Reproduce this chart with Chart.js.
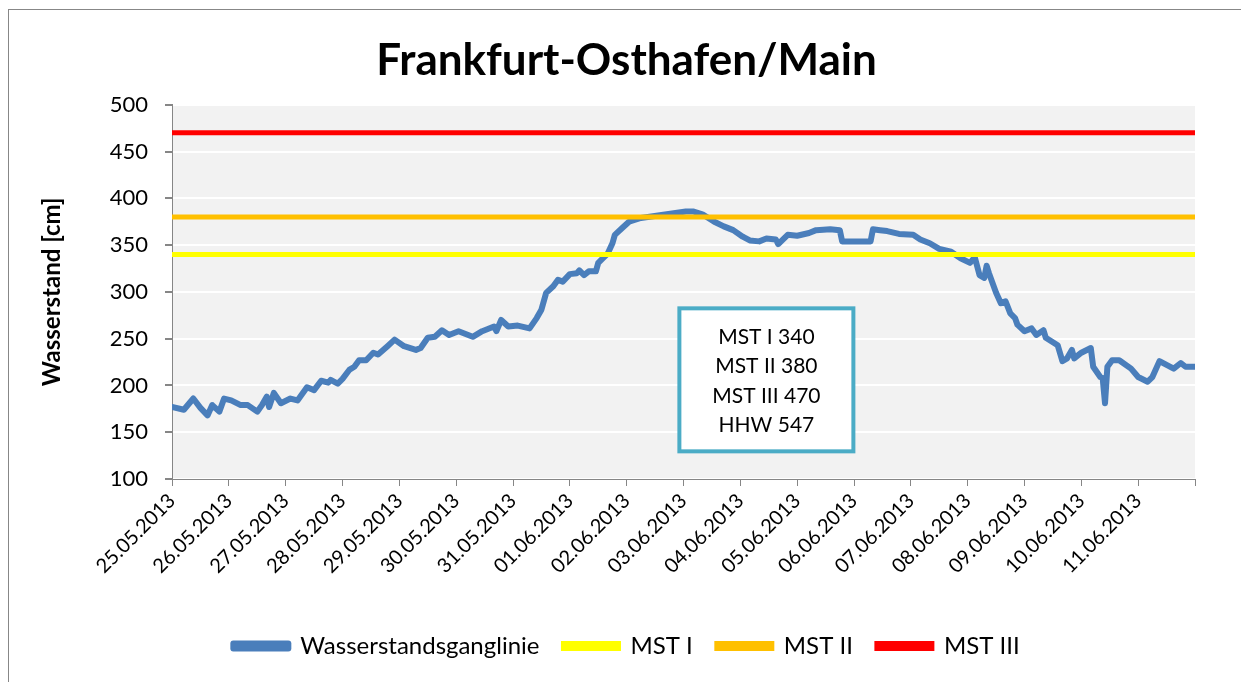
<!DOCTYPE html>
<html>
<head>
<meta charset="utf-8">
<script src="https://cdn.jsdelivr.net/npm/chart.js@4"></script>
<style>
  html, body { margin: 0; padding: 0; background: #fff; }
  #rahmen { position: absolute; left: 8px; top: 9px; width: 1240px; height: 680px;
            border-left: 1px solid #878787; border-top: 1px solid #878787; pointer-events: none; }
  #wrap { position: absolute; left: 0; top: 0; width: 1241px; height: 682px; }
</style>
</head>
<body>
<div id="wrap"><canvas id="grafica" width="1241" height="682"></canvas></div>
<div id="rahmen"></div>
<script>
// Stunden seit 25.05.2013 00:00 und Wasserstand in cm
const stunden = [0, 5, 9, 12, 15, 17, 20, 22, 25, 29, 32, 36, 38, 40, 41, 43, 46, 50, 53, 57,
  60, 63, 66, 67, 70, 72, 75, 77, 79, 82, 85, 87, 91, 94, 98, 103, 105, 108, 111, 114,
  117, 121, 127, 131, 136, 137, 139, 142, 146, 151, 154, 156, 158, 161, 163, 165, 168, 171, 172, 174,
  176, 179, 180, 182, 184, 186, 187, 190, 193, 198, 206, 217, 220, 224, 229, 233, 237, 241, 244, 248,
  251, 255, 256, 260, 264, 269, 272, 278, 282, 283, 295, 296, 299, 302, 307, 313, 316, 320, 324, 329,
  333, 337, 339, 341, 343, 344, 345, 348, 350, 352, 354, 356, 357, 360, 363, 365, 368, 369, 374, 376,
  378, 380, 381, 384, 388, 389, 392, 393, 394, 395, 397, 400, 405, 408, 412, 414, 417, 420, 423, 426,
  428, 432];
const pegel = [177, 174, 186, 176, 168, 179, 172, 186, 184, 179, 179, 172, 179, 188, 177, 192, 181, 186, 184, 198,
  195, 205, 203, 206, 202, 207, 217, 220, 227, 227, 235, 233, 242, 249, 242, 238, 240, 251, 252, 259,
  254, 258, 252, 258, 263, 258, 270, 263, 264, 261, 272, 281, 299, 306, 313, 311, 319, 320, 323, 318,
  322, 322, 331, 336, 341, 352, 361, 368, 375, 379, 382, 386, 386, 383, 375, 370, 366, 359, 355, 354,
  357, 356, 351, 361, 360, 363, 366, 367, 366, 354, 354, 367, 366, 365, 362, 361, 356, 352, 346, 343,
  336, 331, 337, 318, 315, 328, 320, 299, 288, 290, 277, 272, 265, 258, 261, 254, 259, 251, 243, 226,
  229, 238, 229, 235, 240, 220, 209, 208, 181, 220, 227, 227, 218, 209, 204, 209, 226, 222, 218, 224,
  220, 220];

const datumLabels = ['25.05.2013', '26.05.2013', '27.05.2013', '28.05.2013', '29.05.2013', '30.05.2013',
  '31.05.2013', '01.06.2013', '02.06.2013', '03.06.2013', '04.06.2013', '05.06.2013', '06.06.2013',
  '07.06.2013', '08.06.2013', '09.06.2013', '10.06.2013', '11.06.2013'];

const mstNamen = ['MST I', 'MST II', 'MST III'];
const mstWerte = [340, 380, 470];
const mstFarben = ['#ffff00', '#ffc000', '#ff0000'];
const infoZeilen = ['MST I 340', 'MST II 380', 'MST III 470', 'HHW 547'];

const schrift = 'Lato, "Open Sans", sans-serif';
const ende = 432;

// grauer Hintergrund nur im Diagrammbereich
const hintergrund = {
  id: 'hintergrund',
  beforeDraw(chart) {
    const a = chart.chartArea;
    const ctx = chart.ctx;
    ctx.save();
    ctx.fillStyle = '#f2f2f2';
    ctx.fillRect(a.left, a.top, a.right - a.left, a.bottom - a.top);
    ctx.restore();
  }
};

// Textfeld mit den Meldestufen
const infoBox = {
  id: 'infoBox',
  afterDatasetsDraw(chart) {
    const ctx = chart.ctx;
    const x = chart.scales.x, y = chart.scales.y;
    const cx = x.getPixelForValue(251);
    const cy = y.getPixelForValue(206);
    const w = 174, h = 143;
    ctx.save();
    ctx.fillStyle = '#ffffff';
    ctx.strokeStyle = '#4bacc6';
    ctx.lineWidth = 4;
    ctx.fillRect(cx - w / 2, cy - h / 2, w, h);
    ctx.strokeRect(cx - w / 2, cy - h / 2, w, h);
    ctx.fillStyle = '#000';
    ctx.font = '21px ' + schrift;
    ctx.textAlign = 'center';
    ctx.textBaseline = 'middle';
    infoZeilen.forEach((t, i) => {
      ctx.fillText(t, cx, cy - 43 + i * 29.5);
    });
    ctx.restore();
  }
};

const datasets = [{
  label: 'Wasserstandsganglinie',
  data: stunden.map((h, i) => ({ x: h, y: pegel[i] })),
  borderColor: '#4a7ebb',
  backgroundColor: '#4a7ebb',
  borderWidth: 6,
  pointRadius: 0,
  borderJoinStyle: 'round',
  borderCapStyle: 'round',
  order: 5
}];
mstNamen.forEach((name, i) => {
  datasets.push({
    label: name,
    data: [{ x: 0, y: mstWerte[i] }, { x: ende, y: mstWerte[i] }],
    borderColor: mstFarben[i],
    backgroundColor: mstFarben[i],
    borderWidth: 5,
    pointRadius: 0,
    borderCapStyle: 'round',
    order: i
  });
});

const ctx = document.getElementById('grafica').getContext('2d');
const myChart = new Chart(ctx, {
  type: 'line',
  data: { datasets: datasets },
  plugins: [hintergrund, infoBox],
  options: {
    responsive: false,
    animation: false,
    layout: { padding: { left: 58, right: 46, top: 6, bottom: 14 } },
    plugins: {
      title: {
        display: true,
        text: 'Frankfurt-Osthafen/Main',
        color: '#000',
        font: { family: schrift, size: 44, weight: 'bold' },
        padding: { top: 28, bottom: 18 }
      },
      legend: {
        position: 'bottom',
        labels: {
          color: '#000',
          font: { family: schrift, size: 24 },
          boxWidth: 55,
          boxHeight: 5,
          padding: 24,
          sort: (a, b) => a.datasetIndex - b.datasetIndex
        }
      },
      tooltip: { enabled: false }
    },
    scales: {
      x: {
        type: 'linear',
        min: 0,
        max: ende,
        afterFit(scale) { scale.height = 131; },
        ticks: {
          stepSize: 24,
          autoSkip: false,
          minRotation: 45,
          maxRotation: 45,
          color: '#000',
          font: { family: schrift, size: 20 },
          callback: (v) => datumLabels[v / 24] || ''
        },
        grid: { drawOnChartArea: false, drawTicks: true, tickLength: 7, tickColor: '#868686' },
        border: { color: '#868686', width: 1 }
      },
      y: {
        min: 100,
        max: 500,
        afterFit(scale) { scale.width = 114; },
        ticks: {
          stepSize: 50,
          color: '#000',
          font: { family: schrift, size: 22 },
          padding: 17
        },
        title: {
          display: true,
          text: 'Wasserstand [cm]',
          color: '#000',
          font: { family: schrift, size: 24, weight: 'bold' },
          padding: { top: -20, bottom: 0 }
        },
        grid: { color: '#ffffff', lineWidth: 2, drawTicks: true, tickLength: 7, tickColor: '#868686' },
        border: { color: '#868686', width: 1 }
      }
    }
  }
});
</script>
</body>
</html>
